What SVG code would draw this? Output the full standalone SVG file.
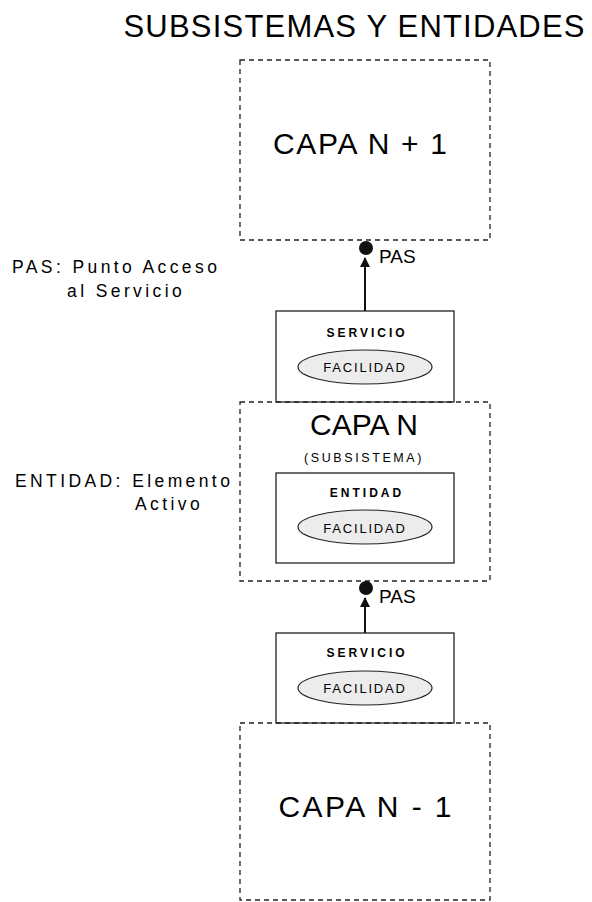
<svg xmlns="http://www.w3.org/2000/svg" width="592" height="902" viewBox="0 0 592 902">
<style>
text{font-family:"Liberation Sans",Arial,sans-serif;fill:#000}
.layer{fill:none;stroke:#222;stroke-width:1.3;stroke-dasharray:5 4}
.box{fill:#fff;stroke:#222;stroke-width:1.3}
.fac{fill:#ececec;stroke:#222;stroke-width:1.2}
.big{font-size:30px;text-anchor:middle}
.small{font-size:12px;font-weight:bold;text-anchor:middle;letter-spacing:3px}
.facT{font-size:13px;text-anchor:middle;letter-spacing:1.8px}
.pas{font-size:19px}
.lbl{font-size:17.5px;letter-spacing:3.4px}
.conn{stroke:#111;stroke-width:2;fill:none}
</style>
<defs>
<marker id="ah" viewBox="0 0 10 10" refX="9" refY="5" markerWidth="5" markerHeight="5" orient="auto">
<path d="M0,0 L10,5 L0,10 z" fill="#111"/>
</marker>
</defs>
<text x="354" y="37" font-size="31" text-anchor="middle" textLength="461" lengthAdjust="spacing">SUBSISTEMAS Y ENTIDADES</text>

<g id="capa-n1">
<rect class="layer" x="240" y="60" width="250" height="180"/>
<text class="big" x="360" y="154" textLength="174" lengthAdjust="spacing">CAPA N + 1</text>
</g>

<g id="servicio1">
<rect class="box" x="276" y="311" width="178" height="91"/>
<text class="small" x="367" y="337">SERVICIO</text>
<ellipse class="fac" cx="365" cy="367" rx="67" ry="17"/>
<text class="facT" x="365" y="372">FACILIDAD</text>
</g>

<g id="capa-n">
<rect class="layer" x="240" y="402" width="250" height="179"/>
<text class="big" x="364" y="435">CAPA N</text>
<text x="364" y="462" font-size="12.5" text-anchor="middle" letter-spacing="2.6">(SUBSISTEMA)</text>
</g>

<g id="entidad">
<rect class="box" x="276" y="473" width="178" height="90"/>
<text class="small" x="367" y="497">ENTIDAD</text>
<ellipse class="fac" cx="365" cy="527" rx="67" ry="17"/>
<text class="facT" x="365" y="533">FACILIDAD</text>
</g>

<g id="servicio2">
<rect class="box" x="276" y="633" width="178" height="90"/>
<text class="small" x="367" y="657">SERVICIO</text>
<ellipse class="fac" cx="365" cy="688" rx="67" ry="17"/>
<text class="facT" x="365" y="693">FACILIDAD</text>
</g>

<g id="capa-n-1">
<rect class="layer" x="240" y="723" width="250" height="177"/>
<text class="big" x="365" y="817" textLength="173" lengthAdjust="spacing">CAPA N - 1</text>
</g>

<g id="pas1">
<circle cx="366" cy="248" r="7" fill="#111"/>
<text class="pas" x="379" y="263">PAS</text>
</g>
<g id="pas2">
<circle cx="366" cy="588" r="7" fill="#111"/>
<text class="pas" x="379" y="603">PAS</text>
</g>

<g id="connectors">
<line class="conn" x1="365" y1="311" x2="365" y2="258" marker-end="url(#ah)"/>
<line class="conn" x1="365" y1="633" x2="365" y2="598" marker-end="url(#ah)"/>
</g>

<g id="labels">
<text class="lbl" x="12" y="273">PAS: Punto Acceso</text>
<text class="lbl" x="67" y="297">al Servicio</text>
<text class="lbl" x="15" y="487">ENTIDAD: Elemento</text>
<text class="lbl" x="135" y="510">Activo</text>
</g>
</svg>
